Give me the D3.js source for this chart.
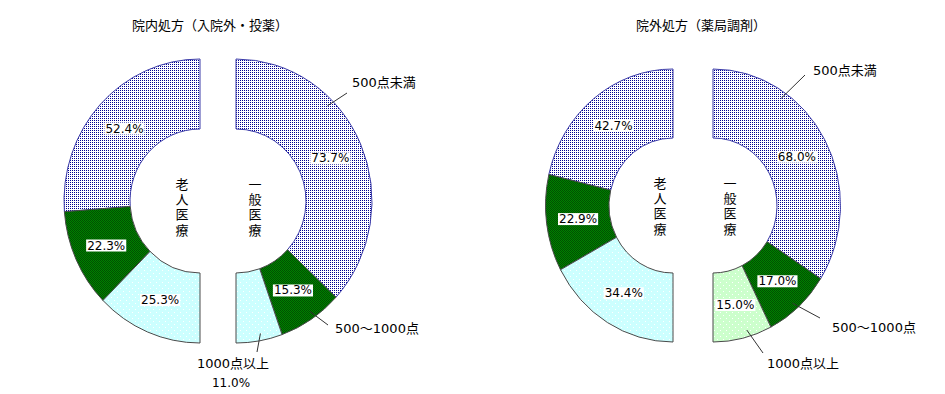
<!DOCTYPE html>
<html>
<head>
<meta charset="utf-8">
<script src="https://cdn.jsdelivr.net/npm/d3@7"></script>
<style>
  body { margin: 0; background: #fff; }
  svg { display: block; }
  text { font-family: "DejaVu Sans", "Noto Sans CJK JP", sans-serif; fill: #000; }
</style>
</head>
<body>
<svg id="chart" width="945" height="394"></svg>
<script>
// data (percent of each group)
const categories = ["500点未満", "500〜1000点", "1000点以上"];
const groups = ["老人医療", "一般医療"];
const titles = ["院内処方（入院外・投薬）", "院外処方（薬局調剤）"];
const innaiRojin = [52.4, 22.3, 25.3];
const innaiIppan = [73.7, 15.3, 11.0];
const ingaiRojin = [42.7, 22.9, 34.4];
const ingaiIppan = [68.0, 17.0, 15.0];

// layout for both donuts
const charts = [
  {
    title: titles[0], titleX: 210, cy: 201, cx: [200, 236],
    rxO: 136, ryO: 142, rxI: 70, ryI: 72,
    halves: [innaiRojin, innaiIppan],
    fills: [["url(#pBlue)", "url(#pGreen)", "url(#pCyan)"], ["url(#pBlue)", "url(#pGreen)", "url(#pCyan)"]],
    vText: [-18, 19], vMid: 208,
    outer: [
      { lx: 352, ly: 82, ex: 347, ey: 93, frac: 0.34 },
      { lx: 335, ly: 328, ex: 328, ey: 325, frac: 0.45 },
      { lx: 233, ly: 363, ex: 257, ey: 352, frac: 0.45, anchor: "middle", pctX: 231, pctY: 383 }
    ]
  },
  {
    title: titles[1], titleX: 701, cy: 205.5, cx: [673, 713],
    rxO: 127.5, ryO: 136.5, rxI: 64, ryI: 67.5,
    halves: [ingaiRojin, ingaiIppan],
    fills: [["url(#pBlue)", "url(#pGreen)", "url(#pCyan)"], ["url(#pBlue)", "url(#pGreen)", "url(#pLGreen)"]],
    vText: [-13, 17], vMid: 207,
    outer: [
      { lx: 813, ly: 70, ex: 805, ey: 75, frac: 0.28 },
      { lx: 832, ly: 327, ex: 820, ey: 318, frac: 0.54 },
      { lx: 767, ly: 363, ex: 763, ey: 353, frac: 0.4 }
    ]
  }
];

const svg = d3.select("#chart");
const defs = svg.append("defs");

// fill textures
function pattern(id, w, base, dots, dotColor)
{
  const p = defs.append("pattern")
    .attr("id", id)
    .attr("patternUnits", "userSpaceOnUse")
    .attr("width", w)
    .attr("height", w);
  p.append("rect").attr("width", w).attr("height", w).attr("fill", base)
    .attr("shape-rendering", "crispEdges");
  dots.forEach(d => p.append("rect")
    .attr("x", d[0]).attr("y", d[1])
    .attr("width", 1).attr("height", 1)
    .attr("shape-rendering", "crispEdges")
    .attr("fill", dotColor));
}
pattern("pBlue", 2, "#ffffff", [[0, 0]], "#000090");
pattern("pGreen", 2, "#008000", [[0, 0], [1, 1]], "#005000");
pattern("pCyan", 6, "#ccffff", [[0, 0], [3, 3]], "#ffffff");
pattern("pLGreen", 6, "#ccffcc", [[0, 0], [3, 3]], "#ffffff");

// elliptical ring sector, angle clockwise from the top
function sector(cx, cy, c, a0, a1)
{
  const pt = (a, rx, ry) => [cx + rx * Math.sin(a), cy - ry * Math.cos(a)];
  const large = (a1 - a0) > Math.PI ? 1 : 0;
  const o0 = pt(a0, c.rxO, c.ryO), o1 = pt(a1, c.rxO, c.ryO);
  const i0 = pt(a0, c.rxI, c.ryI), i1 = pt(a1, c.rxI, c.ryI);
  return `M${ o0 }A${ c.rxO },${ c.ryO } 0 ${ large } 1 ${ o1 }L${ i1 }A${ c.rxI },${ c.ryI } 0 ${ large } 0 ${ i0 }Z`;
}

function boxedText(g, x, y, str)
{
  const t = g.append("text")
    .attr("x", x)
    .attr("y", y)
    .attr("dy", "0.36em")
    .attr("text-anchor", "middle")
    .attr("font-size", "12px")
    .text(str);
  const b = t.node().getBBox();
  g.insert("rect", "text")
    .attr("x", b.x - 1)
    .attr("y", b.y + 1)
    .attr("width", b.width + 2)
    .attr("height", b.height - 2)
    .attr("fill", "#fff");
}

charts.forEach(c =>
{
  const g = svg.append("g");

  g.append("text")
    .attr("x", c.titleX)
    .attr("y", 25)
    .attr("dy", "0.36em")
    .attr("text-anchor", "middle")
    .attr("font-size", "13px")
    .style("font-family", "'Noto Sans CJK JP', sans-serif")
    .text(c.title);

  c.halves.forEach((values, h) =>
  {
    const cx = c.cx[h];
    // left half runs counter-clockwise from the top, right half clockwise
    const angle = d3.scaleLinear().domain([0, 100]).range([0, h === 0 ? -Math.PI : Math.PI]);
    const cum = d3.cumsum([0].concat(values));
    const segs = values.map((v, i) => ({
      v, i,
      s: angle(cum[i]), e: angle(cum[i + 1])
    }));

    g.append("g").selectAll("path")
      .data(segs)
      .enter()
      .append("path")
      .attr("d", d => sector(cx, c.cy, c, Math.min(d.s, d.e), Math.max(d.s, d.e)))
      .attr("fill", d => c.fills[h][d.i])
      .attr("stroke", d => d.i === 0 ? "#3a3aa8" : "#4a4a4a")
      .attr("stroke-width", 1);

    // group name written vertically in the hole
    g.append("text")
      .attr("x", cx + c.vText[h])
      .attr("y", c.vMid)
      .attr("text-anchor", "middle")
      .attr("font-size", "13px")
      .style("font-family", "'Noto Sans CJK JP', sans-serif")
      .style("writing-mode", "vertical-rl")
      .style("letter-spacing", "2.3px")
      .text(groups[h]);

    // percent labels
    const lg = g.append("g");
    segs.forEach(d =>
    {
      const ext = h === 1 ? c.outer[d.i] : null;
      const label = d3.format(".1f")(d.v) + "%";
      if (ext && ext.pctX !== undefined)
      {
        lg.append("text")
          .attr("x", ext.pctX)
          .attr("y", ext.pctY)
          .attr("dy", "0.36em")
          .attr("text-anchor", "middle")
          .attr("font-size", "12px")
          .text(label);
      }
      else
      {
        const m = (d.s + d.e) / 2;
        const rx = (c.rxO + c.rxI) / 2, ry = (c.ryO + c.ryI) / 2;
        boxedText(lg.append("g"), cx + rx * Math.sin(m), c.cy - ry * Math.cos(m), label);
      }

      // category labels with leader lines on the right half
      if (ext)
      {
        const a = d.s + (d.e - d.s) * ext.frac;
        g.append("line")
          .attr("x1", cx + c.rxO * 0.95 * Math.sin(a))
          .attr("y1", c.cy - c.ryO * 0.95 * Math.cos(a))
          .attr("x2", ext.ex)
          .attr("y2", ext.ey)
          .attr("stroke", "#333")
          .attr("stroke-width", 1);
        g.append("text")
          .attr("x", ext.lx)
          .attr("y", ext.ly)
          .attr("dy", "0.36em")
          .attr("text-anchor", ext.anchor || "start")
          .attr("font-size", "13px")
          .text(categories[d.i]);
      }
    });
  });
});
</script>
</body>
</html>
